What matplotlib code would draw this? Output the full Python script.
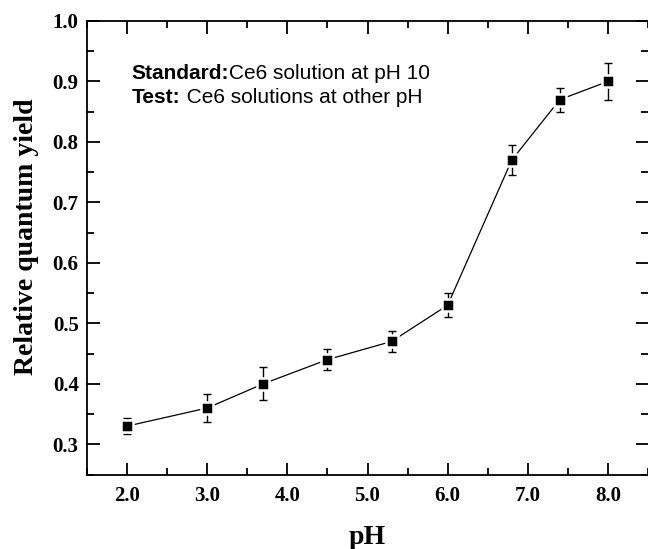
import numpy as np
import matplotlib.pyplot as plt
from matplotlib.ticker import MultipleLocator

# data
ph = [2.0, 3.0, 3.7, 4.5, 5.3, 6.0, 6.8, 7.4, 8.0]
qy = [0.33, 0.36, 0.40, 0.44, 0.47, 0.53, 0.77, 0.87, 0.90]
qy_err = [0.013, 0.023, 0.027, 0.018, 0.018, 0.02, 0.025, 0.02, 0.03]
x_ticks = [2.0, 3.0, 4.0, 5.0, 6.0, 7.0, 8.0]
y_ticks = [0.3, 0.4, 0.5, 0.6, 0.7, 0.8, 0.9, 1.0]

serif = "Liberation Serif"
sans = "Liberation Sans"

fig = plt.figure(figsize=(6.48, 5.49), dpi=100)
ax = fig.add_axes([87 / 648, 1 - 474.5 / 549, 1 - 87 / 648, (474.5 - 21) / 549])

ax.errorbar(ph, qy, yerr=qy_err, fmt="none", ecolor="black", elinewidth=1.0,
            capsize=3.0, capthick=1.0, zorder=2)
ax.plot(ph, qy, color="black", lw=0.9, marker="s", markersize=8,
        markerfacecolor="black", markeredgecolor="white", markeredgewidth=1.8,
        zorder=3)

ax.set_xlim(1.5, 8.5)
ax.set_ylim(0.25, 1.0)
ax.set_xticks(x_ticks)
ax.set_yticks(y_ticks)
ax.xaxis.set_minor_locator(MultipleLocator(0.5))
ax.yaxis.set_minor_locator(MultipleLocator(0.05))
ax.set_xticklabels(["%.1f" % v for v in x_ticks], fontfamily=serif,
                   fontweight="bold", fontsize=15)
ax.set_yticklabels(["%.1f" % v for v in y_ticks], fontfamily=serif,
                   fontweight="bold", fontsize=15)
ax.tick_params(which="major", direction="in", length=9, width=1.3,
               top=True, right=True, labeltop=False, labelright=False)
ax.tick_params(which="minor", direction="in", length=5, width=1.3,
               top=True, right=True)
ax.tick_params(axis="x", which="major", pad=8)
ax.tick_params(axis="y", which="major", pad=6)
for s in ["left", "bottom", "top"]:
    ax.spines[s].set_linewidth(1.3)
ax.spines["right"].set_visible(False)

ax.set_xlabel("pH", fontfamily=serif, fontweight="bold", fontsize=20, labelpad=14)
ax.set_ylabel("Relative quantum yield", fontfamily=serif, fontweight="bold",
              fontsize=20, labelpad=10)
ax.yaxis.set_label_coords(-0.086, 0.525)

fs = 15
t = ax.text(0.080, 0.884, "Standard:", transform=ax.transAxes, fontfamily=sans,
            fontweight="bold", fontsize=fs, va="center")
fig.canvas.draw()
bb = t.get_window_extent().transformed(ax.transAxes.inverted())
ax.text(bb.x1, 0.884, "Ce6 solution at pH 10", transform=ax.transAxes,
        fontfamily=sans, fontsize=fs, va="center")
t2 = ax.text(0.080, 0.831, "Test:", transform=ax.transAxes, fontfamily=sans,
             fontweight="bold", fontsize=fs, va="center")
bb2 = t2.get_window_extent().transformed(ax.transAxes.inverted())
ax.text(bb2.x1, 0.831, " Ce6 solutions at other pH", transform=ax.transAxes,
        fontfamily=sans, fontsize=fs, va="center")

fig.savefig("out.png", dpi=100)
